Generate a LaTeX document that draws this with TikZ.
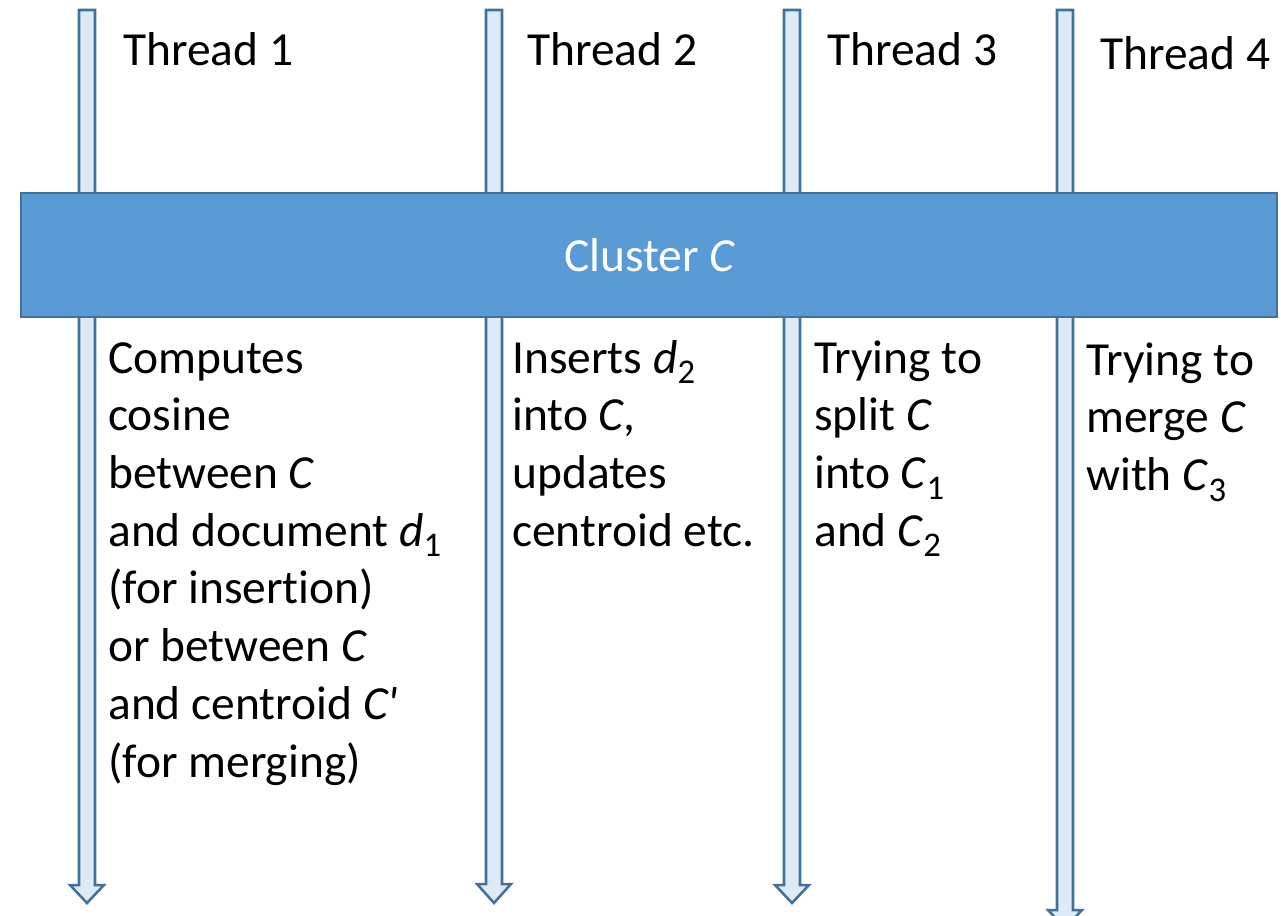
\documentclass[tikz,border=0pt]{standalone}
\usepackage{fontspec}
\setmainfont[Ligatures=NoCommon]{Carlito}
\definecolor{boxblue}{HTML}{5B9BD5}
\definecolor{edgeblue}{HTML}{41719C}
\definecolor{shaftblue}{HTML}{DEEBF7}
\tikzset{
  timeline/.style={draw=edgeblue, fill=shaftblue, line width=1.9pt, line join=miter},
  clusterbox/.style={draw=edgeblue, fill=boxblue, line width=1.9pt},
  label/.style={anchor=base west, inner sep=0pt, font=\fontsize{35.6}{43.3}\selectfont},
}
\newcommand{\iv}[1]{\textit{#1}}
% lowered index digit
\newcommand{\idx}[1]{\raisebox{-8pt}{\fontsize{26}{26}\selectfont #1}}
% left-aligned block of lines whose baseline is that of its first line
\newcommand{\lines}[1]{\begin{tabular}[t]{@{}l@{}}#1\end{tabular}}
\begin{document}
\begin{tikzpicture}[x=0.75pt, y=-0.75pt]
\useasboundingbox (0,0) rectangle (1281,915);

% vertical thread timelines (shaft half-width 8, head half-width 17)
\foreach \cx/\yh/\yt in {87/885/903, 494/884/903, 792/885/903, 1065/910/928} {
  \draw[timeline] (\cx-8,10) -- (\cx+8,10) -- (\cx+8,\yh) -- (\cx+17,\yh)
    -- (\cx,\yt) -- (\cx-17,\yh) -- (\cx-8,\yh) -- cycle;
}

% shared cluster bar
\draw[clusterbox] (21,193) rectangle (1277,317);
\node[label, anchor=base, text=white] (cluster) at (650,271) {Cluster \iv{C}};

% thread headings
\node[label] (t1) at (123,65) {Thread 1};
\node[label] (t2) at (527,65) {Thread 2};
\node[label] (t3) at (827,65) {Thread 3};
\node[label] (t4) at (1100,69) {Thread 4};

% per-thread actions
\node[label] (a1) at (108,373) {\lines{Computes\\cosine\\between \iv{C}\\and document \iv{d}\idx{1}\\(for insertion)\\or between \iv{C}\\and centroid \iv{C\textquotesingle}\\(for merging)}};
\node[label] (a2) at (512,373) {\lines{Inserts \iv{d}\idx{2}\\into \iv{C},\\updates\\centroid etc.}};
\node[label] (a3) at (814,373) {\lines{Trying to\\split \iv{C}\\into \iv{C}\idx{1}\\and \iv{C}\idx{2}}};
\node[label] (a4) at (1086,375) {\lines{Trying to\\merge \iv{C}\\with \iv{C}\idx{3}}};
\end{tikzpicture}
\end{document}
